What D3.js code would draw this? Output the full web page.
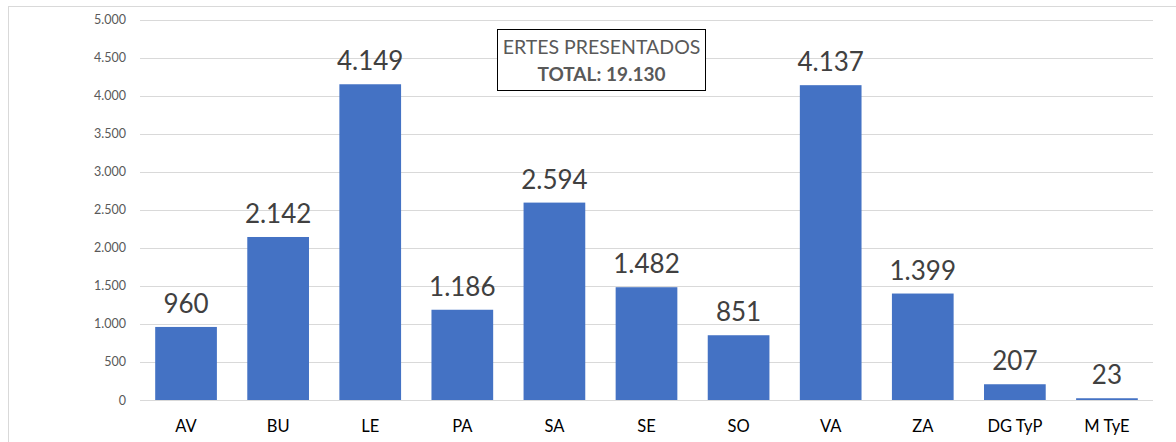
<!DOCTYPE HTML>
<html lang="es">
<head>
    <meta charset="utf-8" />
    <title>ERTES presentados</title>
    <style>
        body { margin: 0; background: #fff; }
        svg text { font-family: Lato, "Open Sans", sans-serif; }
    </style>
</head>
<body>
    <div id="chart"></div>
    <script src="https://d3js.org/d3.v7.min.js"></script>
    <script>
        const categories = ["AV", "BU", "LE", "PA", "SA", "SE", "SO", "VA", "ZA", "DG TyP", "M TyE"];
        const values = [960, 2142, 4149, 1186, 2594, 1482, 851, 4137, 1399, 207, 23];
        const yTicks = [0, 500, 1000, 1500, 2000, 2500, 3000, 3500, 4000, 4500, 5000];
        const titleLines = ["ERTES PRESENTADOS", "TOTAL: 19.130"];

        const width = 1176, height = 442;
        const plot = { left: 140, right: 1153, top: 19.5, bottom: 400 };

        const fmt = d3.formatLocale({ decimal: ",", thousands: ".", grouping: [3], currency: ["", "€"] }).format(",d");

        const svg = d3.select("#chart").append("svg")
            .attr("width", width)
            .attr("height", height);

        // outer chart border (cut at right and bottom as in the original)
        svg.append("rect")
            .attr("x", 8.5).attr("y", 6.5)
            .attr("width", 1200).attr("height", 460)
            .attr("fill", "none")
            .attr("stroke", "#d9d9d9")
            .attr("stroke-width", 1);

        const x = d3.scaleBand()
            .domain(categories)
            .range([plot.left, plot.right])
            .paddingInner(0.33)
            .paddingOuter(0.165);

        const y = d3.scaleLinear()
            .domain([0, 5000])
            .range([plot.bottom, plot.top]);

        // grid
        svg.append("g")
            .selectAll("line")
            .data(yTicks)
            .join("line")
            .attr("x1", plot.left).attr("x2", plot.right)
            .attr("y1", d => Math.round(y(d)) + 0.5)
            .attr("y2", d => Math.round(y(d)) + 0.5)
            .attr("stroke", "#d9d9d9")
            .attr("stroke-width", 1);

        // y axis labels
        const yAxis = svg.append("g")
            .attr("transform", `translate(${plot.left}, 0)`)
            .call(d3.axisLeft(y).tickValues(yTicks).tickFormat(fmt).tickSize(0).tickPadding(14));
        yAxis.select(".domain").remove();
        yAxis.selectAll("text")
            .attr("fill", "#595959")
            .style("font-size", "12.5px");

        // bars
        svg.append("g")
            .selectAll("rect")
            .data(values)
            .join("rect")
            .attr("x", (d, i) => x(categories[i]))
            .attr("y", d => y(d))
            .attr("width", x.bandwidth())
            .attr("height", d => y(0) - y(d))
            .attr("fill", "#4472c4");

        // value labels
        svg.append("g")
            .selectAll("text")
            .data(values)
            .join("text")
            .attr("x", (d, i) => x(categories[i]) + x.bandwidth() / 2)
            .attr("y", d => y(d) - 14)
            .attr("text-anchor", "middle")
            .attr("fill", "#404040")
            .style("font-size", "26px")
            .text(d => fmt(d));

        // x axis labels
        const xAxis = svg.append("g")
            .attr("transform", `translate(0, ${plot.bottom})`)
            .call(d3.axisBottom(x).tickSize(0).tickPadding(20));
        xAxis.select(".domain").remove();
        xAxis.selectAll("text")
            .attr("fill", "#000")
            .style("font-size", "16.5px");

        // title box
        const box = svg.append("g");
        box.append("rect")
            .attr("x", 497.5).attr("y", 29.5)
            .attr("width", 208).attr("height", 61)
            .attr("fill", "#fff")
            .attr("stroke", "#000")
            .attr("stroke-width", 1);
        box.append("text")
            .attr("x", 601.5).attr("y", 54)
            .attr("text-anchor", "middle")
            .attr("fill", "#595959")
            .style("font-size", "19.5px")
            .text(titleLines[0]);
        box.append("text")
            .attr("x", 601.5).attr("y", 81)
            .attr("text-anchor", "middle")
            .attr("fill", "#595959")
            .style("font-size", "19px")
            .style("font-weight", "bold")
            .text(titleLines[1]);
    </script>
</body>
</html>
